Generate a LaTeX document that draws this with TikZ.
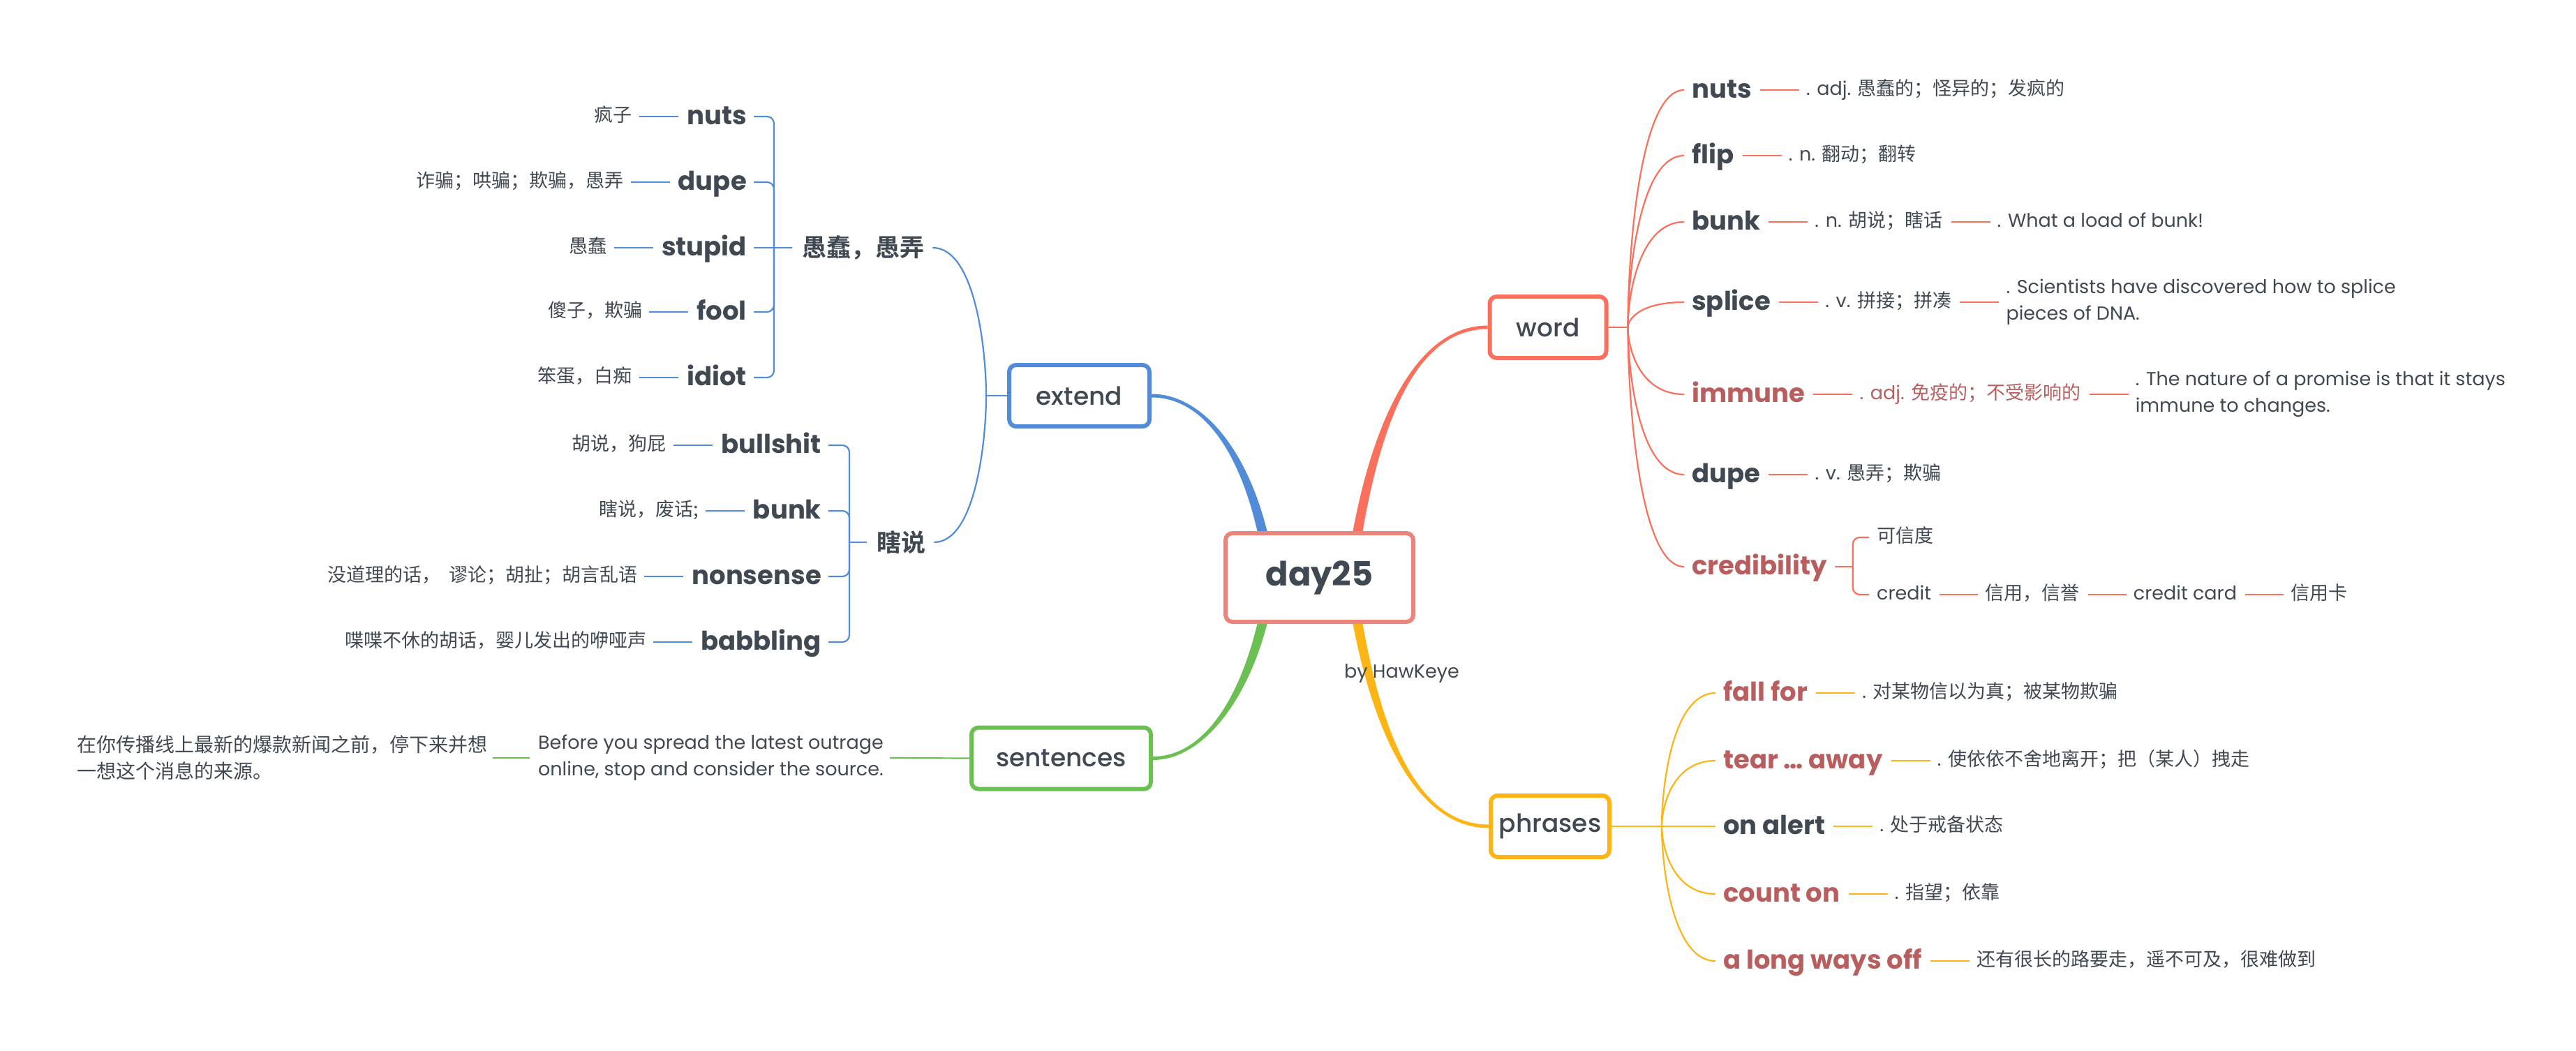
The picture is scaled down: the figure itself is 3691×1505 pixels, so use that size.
\documentclass[tikz,border=0pt]{standalone}
\usepackage{fontspec}
\setmainfont{Poppins}
\newfontfamily\pmed{Poppins Medium}
\newfontfamily\cjk{Noto Sans CJK SC}
\newfontfamily\cjkb{Noto Sans CJK SC Bold}
\usetikzlibrary{calc,backgrounds}
\definecolor{cdark}{RGB}{64,72,82}
\definecolor{cwred}{RGB}{184,94,94}
\definecolor{cred}{RGB}{250,112,92}
\definecolor{cblue}{RGB}{82,140,216}
\definecolor{cgreen}{RGB}{108,191,82}
\definecolor{cyel}{RGB}{252,181,20}
\definecolor{croot}{RGB}{233,133,125}
\newcommand\mmtaper[6]{\fill[#1] ($(#2)+(-7,0)$) .. controls ($(#2)+(#3)+(-6,0)$) and ($(#4)+(#5)+(0,{(#6)*2.5})$) .. ($(#4)+(0,{(#6)*2.5})$) -- ($(#4)+(0,{-(#6)*2.5})$) .. controls ($(#4)+(#5)+(0,{-(#6)*2.5})$) and ($(#2)+(#3)+(6,0)$) .. ($(#2)+(7,0)$) -- cycle;}
\newcommand\mmcurve[3]{\draw[#1] (#2) .. controls ($(#2)!0.3!(#2 |- #3)$) and ($(#2 |- #3)!0.2!(#3)$) .. (#3);}
\tikzset{
  bw/.style={font=\fontsize{37}{44}\selectfont\bfseries, text=cdark, inner sep=0pt, text height=31pt, text depth=9pt},
  bwr/.style={bw, text=cwred},
  rt/.style={font=\fontsize{27}{38}\selectfont, text=cdark, inner sep=0pt, text height=21pt, text depth=6pt},
  rtz/.style={rt, font=\fontsize{27}{38}\selectfont\cjk},
  rtm/.style={font=\fontsize{27}{38}\selectfont, text=cdark, inner sep=0pt, align=left},
  topic/.style={draw, line width=6pt, rounded corners=10pt, fill=white, text=cdark, font=\fontsize{36}{40}\selectfont\pmed, minimum height=88pt, inner sep=0pt},
  grp/.style={font=\fontsize{35}{40}\selectfont\cjkb, text=cdark, inner sep=0pt},
  lred/.style={draw=cred, line width=2.2pt},
  lblue/.style={draw=cblue, line width=2.2pt},
  lgreen/.style={draw=cgreen, line width=2.2pt},
  lyel/.style={draw=cyel, line width=2.2pt},
}
\newcommand\zh[1]{{\cjk #1}}
\begin{document}
\begin{tikzpicture}[x=1pt,y=-1pt]
\useasboundingbox (0,0) rectangle (3691,1505);
% topics
\node[topic, draw=croot, minimum width=269pt, minimum height=127pt, font=\fontsize{48}{52}\selectfont\bfseries] (root) at (1890.5,827.5) {day25};
\node[topic, draw=cred, minimum width=167pt] (word) at (2218,469) {word};
\node[topic, draw=cblue, minimum width=201pt] (extend) at (1546.5,567) {extend};
\node[topic, draw=cgreen, minimum width=257pt] (sentences) at (1520.5,1086.5) {sentences};
\node[topic, draw=cyel, minimum width=170pt] (phrases) at (2221,1184) {phrases};
\node[rt, anchor=west] (by) at (1926,964) {by HawKeye};
% main branches
\coordinate (cB0) at ([xshift=-82pt]root.north);
\coordinate (cR0) at ([xshift=55pt]root.north);
\coordinate (cG0) at ([xshift=-82pt]root.south);
\coordinate (cY0) at ([xshift=55pt]root.south);
\begin{pgfonlayer}{background}
\mmtaper{cblue}{cB0}{-29,-121}{extend.east}{70,0}{1}
\mmtaper{cred}{cR0}{29,-161}{word.west}{-101,0}{-1}
\mmtaper{cgreen}{cG0}{-29,116}{sentences.east}{68,0}{-1}
\mmtaper{cyel}{cY0}{29,156}{phrases.west}{-103,0}{1}
\end{pgfonlayer}
% ---------- word branch
\node[bw, anchor=west] (w1) at (2424,129) {nuts};
\node[rt, anchor=west] (w1d) at ([xshift=78pt]w1.east) {. adj. \zh{愚蠢的；怪异的；发疯的}};
\node[bw, anchor=west] (w2) at (2424,223) {flip};
\node[rt, anchor=west] (w2d) at ([xshift=78pt]w2.east) {. n. \zh{翻动；翻转}};
\node[bw, anchor=west] (w3) at (2424,318) {bunk};
\node[rt, anchor=west] (w3d) at ([xshift=78pt]w3.east) {. n. \zh{胡说；瞎话}};
\node[rt, anchor=west] (w3s) at ([xshift=78pt]w3d.east) {. What a load of bunk!};
\node[bw, anchor=west] (w4) at (2424,433) {splice};
\node[rt, anchor=west] (w4d) at ([xshift=78pt]w4.east) {. v. \zh{拼接；拼凑}};
\node[rtm, anchor=west] (w4s) at ([xshift=78pt]w4d.east) {. Scientists have discovered how to splice\\pieces of DNA.};
\node[bwr, anchor=west] (w5) at (2424,565) {immune};
\node[rt, text=cwred, anchor=west] (w5d) at ([xshift=78pt]w5.east) {. adj. \zh{免疫的；不受影响的}};
\node[rtm, anchor=west] (w5s) at ([xshift=78pt]w5d.east) {. The nature of a promise is that it stays\\immune to changes.};
\node[bw, anchor=west] (w6) at (2424,680) {dupe};
\node[rt, anchor=west] (w6d) at ([xshift=78pt]w6.east) {. v. \zh{愚弄；欺骗}};
\node[bwr, anchor=west] (w7) at (2424,812) {credibility};
\node[rtz, anchor=west] (w7a) at (2689,770) {可信度};
\node[rt, anchor=west] (w7b) at (2689,852) {credit};
\node[rtz, anchor=west] (w7c) at ([xshift=77pt]w7b.east) {信用，信誉};
\node[rt, anchor=west] (w7d) at ([xshift=77pt]w7c.east) {credit card};
\node[rtz, anchor=west] (w7e) at ([xshift=77pt]w7d.east) {信用卡};
\coordinate (wJ) at ([xshift=28pt]word.east);
\draw[lred] (word.east) -- (wJ);
\foreach \n in {w1,w2,w3,w4,w5,w6,w7}{
  \coordinate (\n-e) at ([xshift=-11pt]\n.west);
  \mmcurve{lred}{wJ}{\n-e}
}
\foreach \a/\b in {w1/w1d,w2/w2d,w3/w3d,w3d/w3s,w4/w4d,w4d/w4s,w5/w5d,w5d/w5s,w6/w6d,w7b/w7c,w7c/w7d,w7d/w7e}{
  \draw[lred] ([xshift=12pt]\a.east) -- ([xshift=-10pt]\b.west);
}
\coordinate (w7J) at ([xshift=37pt]w7.east);
\draw[lred] ([xshift=11pt]w7.east) -- (w7J);
\draw[lred, rounded corners=10pt] ([xshift=-11pt]w7a.west) -- (w7J |- w7a.west) -- (w7J);
\draw[lred, rounded corners=10pt] ([xshift=-11pt]w7b.west) -- (w7J |- w7b.west) -- (w7J);
% ---------- phrases branch
\node[bwr, anchor=west] (p1) at (2469,993) {fall for};
\node[rt, anchor=west] (p1d) at ([xshift=78pt]p1.east) {. \zh{对某物信以为真；被某物欺骗}};
\node[bwr, anchor=west] (p2) at (2469,1090) {tear … away};
\node[rt, anchor=west] (p2d) at ([xshift=78pt]p2.east) {. \zh{使依依不舍地离开；把（某人）拽走}};
\node[bw, anchor=west] (p3) at (2469,1184) {on alert};
\node[rt, anchor=west] (p3d) at ([xshift=78pt]p3.east) {. \zh{处于戒备状态}};
\node[bwr, anchor=west] (p4) at (2469,1281) {count on};
\node[rt, anchor=west] (p4d) at ([xshift=78pt]p4.east) {. \zh{指望；依靠}};
\node[bwr, anchor=west] (p5) at (2469,1377) {a long ways off};
\node[rtz, anchor=west] (p5d) at ([xshift=78pt]p5.east) {还有很长的路要走，遥不可及，很难做到};
\coordinate (pJ) at ([xshift=72pt]phrases.east);
\draw[lyel] (phrases.east) -- (pJ);
\foreach \n in {p1,p2,p3,p4,p5}{
  \coordinate (\n-e) at ([xshift=-11pt]\n.west);
  \mmcurve{lyel}{pJ}{\n-e}
  \draw[lyel] ([xshift=12pt]\n.east) -- ([xshift=-10pt]\n d.west);
}
% ---------- extend branch
\node[grp, anchor=west] (g1) at (1149,355) {愚蠢，愚弄};
\node[bw, anchor=east] (l1) at (1070,167) {nuts};
\node[rtz, anchor=east] (l1d) at ([xshift=-78pt]l1.west) {疯子};
\node[bw, anchor=east] (l2) at (1070,261) {dupe};
\node[rtz, anchor=east] (l2d) at ([xshift=-78pt]l2.west) {诈骗；哄骗；欺骗，愚弄};
\node[bw, anchor=east] (l3) at (1070,355) {stupid};
\node[rtz, anchor=east] (l3d) at ([xshift=-78pt]l3.west) {愚蠢};
\node[bw, anchor=east] (l4) at (1070,447) {fool};
\node[rtz, anchor=east] (l4d) at ([xshift=-78pt]l4.west) {傻子，欺骗};
\node[bw, anchor=east] (l5) at (1070,541) {idiot};
\node[rtz, anchor=east] (l5d) at ([xshift=-78pt]l5.west) {笨蛋，白痴};
\coordinate (g1b) at (1109,355);
\draw[lblue] ([xshift=10pt]l3.east) -- ([xshift=-14pt]g1.west);
\foreach \n in {l1,l2,l4,l5}{
  \draw[lblue, rounded corners=10pt] ([xshift=10pt]\n.east) -- (g1b |- \n.east) -- (g1b);
}
\node[grp, anchor=west] (g2) at (1256,777) {瞎说};
\node[bw, anchor=east] (m1) at (1177,638) {bullshit};
\node[rtz, anchor=east] (m1d) at ([xshift=-78pt]m1.west) {胡说，狗屁};
\node[bw, anchor=east] (m2) at (1177,732) {bunk};
\node[rtz, anchor=east] (m2d) at ([xshift=-78pt]m2.west) {瞎说，废话;};
\node[bw, anchor=east] (m3) at (1177,826) {nonsense};
\node[rtz, anchor=east] (m3d) at ([xshift=-78pt]m3.west) {没道理的话，\ \ 谬论；胡扯；胡言乱语};
\node[bw, anchor=east] (m4) at (1177,920) {babbling};
\node[rtz, anchor=east] (m4d) at ([xshift=-78pt]m4.west) {喋喋不休的胡话，婴儿发出的咿哑声};
\coordinate (g2b) at (1217,777);
\draw[lblue] (g2b) -- ([xshift=-14pt]g2.west);
\foreach \n in {m1,m2,m3,m4}{
  \draw[lblue, rounded corners=10pt] ([xshift=10pt]\n.east) -- (g2b |- \n.east) -- (g2b);
}
\foreach \n in {l1,l2,l3,l4,l5,m1,m2,m3,m4}{
  \draw[lblue] ([xshift=-12pt]\n.west) -- ([xshift=10pt]\n d.east);
}
\coordinate (eJ) at ([xshift=-30pt]extend.west);
\draw[lblue] (extend.west) -- (eJ);
\coordinate (g1e) at ([xshift=12pt]g1.east);
\coordinate (g2e) at ([xshift=12pt]g2.east);
\mmcurve{lblue}{eJ}{g1e}
\mmcurve{lblue}{eJ}{g2e}
% ---------- sentences branch
\node[rtm, anchor=east] (s1) at (1266,1086) {Before you spread the latest outrage\\online, stop and consider the source.};
\node[rtm, font=\fontsize{28}{38}\selectfont\cjk, anchor=east] (s1z) at ([xshift=-72pt]s1.west) {在你传播线上最新的爆款新闻之前，停下来并想\\一想这个消息的来源。};
\draw[lgreen] ([xshift=9pt]s1.east) -- (sentences.west);
\draw[lgreen] ([xshift=7pt]s1z.east) -- ([xshift=-12pt]s1.west);
\end{tikzpicture}
\end{document}
